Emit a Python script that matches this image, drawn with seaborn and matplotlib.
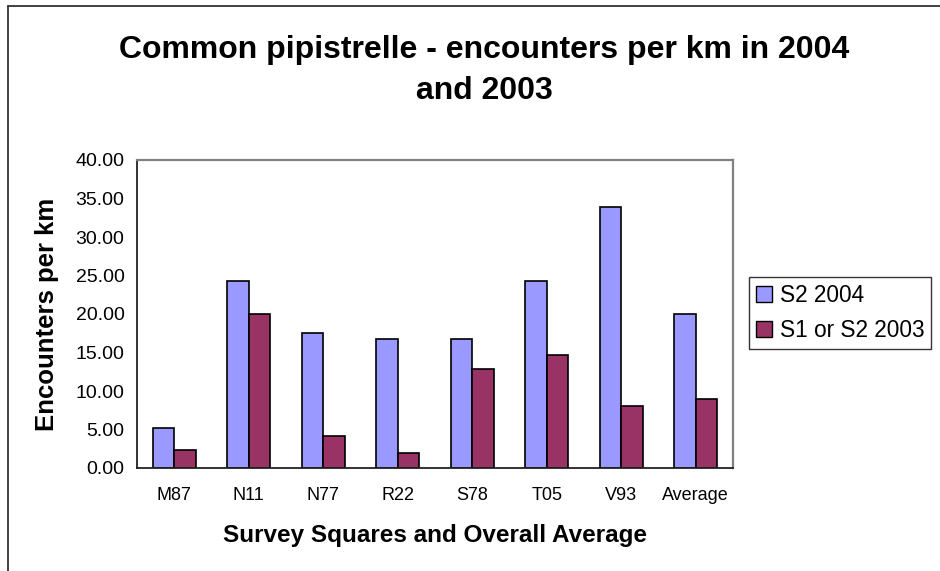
import numpy as np
import pandas as pd
import matplotlib
matplotlib.use("Agg")
import matplotlib.pyplot as plt
from matplotlib.lines import Line2D
from matplotlib.patches import Patch
import seaborn as sns

# survey squares + overall average
squares = ["M87", "N11", "N77", "R22", "S78", "T05", "V93", "Average"]
s2_2004 = [5.2, 24.3, 17.55, 16.7, 16.7, 24.3, 33.9, 20.0]
s1s2_2003 = [2.4, 20.0, 4.2, 2.0, 12.9, 14.7, 8.0, 9.0]
series = ["S2 2004", "S1 or S2 2003"]
colors = ["#9999FF", "#993366"]

df = pd.DataFrame({
    "Square": squares * 2,
    "Encounters": s2_2004 + s1s2_2003,
    "Series": [series[0]] * len(squares) + [series[1]] * len(squares),
})

sns.set_style("white")
plt.rcParams["font.family"] = ["Liberation Sans", "DejaVu Sans"]
plt.rcParams["text.color"] = "black"
plt.rcParams["axes.labelcolor"] = "black"
plt.rcParams["xtick.color"] = "black"
plt.rcParams["ytick.color"] = "black"

fig = plt.figure(figsize=(9.4, 5.71), dpi=100)
ax = fig.add_axes([137/940, 1 - 468/571, (733-137)/940, (468-160)/571])

sns.barplot(data=df, x="Square", y="Encounters", hue="Series", palette=colors,
            width=0.571, gap=0, edgecolor="black", linewidth=1.2, saturation=1,
            ax=ax, legend=False)

ax.set_ylim(0, 40)
ax.set_xlim(-0.5, len(squares) - 0.5)
ax.set_yticks(np.arange(0, 41, 5))
ax.set_yticklabels([f"{v:.2f}" for v in np.arange(0, 41, 5)], fontsize=14)
ax.set_xticks(range(len(squares)))
ax.set_xticklabels(squares, fontsize=13)
ax.tick_params(axis="x", which="major", length=0, pad=14)
ax.set_xticks(np.arange(-0.5, len(squares), 1), minor=True)
ax.tick_params(axis="x", which="minor", length=6, width=1, color="#333333", direction="out")
ax.tick_params(axis="y", length=6, width=1, color="#333333", direction="out", pad=3)

ax.set_xlabel("Survey Squares and Overall Average", fontsize=17.5, fontweight="bold", labelpad=14)
ax.set_ylabel("Encounters per km", fontsize=18.5, fontweight="bold", labelpad=12)

for side in ["left", "bottom"]:
    ax.spines[side].set_color("#222222")
    ax.spines[side].set_linewidth(1.3)
for side in ["top", "right"]:
    ax.spines[side].set_color("#808080")
    ax.spines[side].set_linewidth(1.6)
    ax.spines[side].set_visible(True)

fig.text(484/940, 1 - 50/571, "Common pipistrelle - encounters per km in 2004",
         ha="center", va="center", fontsize=23, fontweight="bold")
fig.text(484/940, 1 - 91/571, "and 2003",
         ha="center", va="center", fontsize=23, fontweight="bold")

handles = [Patch(facecolor=c, edgecolor="black", linewidth=1) for c in colors]
leg = fig.legend(handles, series, loc="upper left",
                 bbox_to_anchor=(749/940, 1 - 277/571), fontsize=16.3,
                 frameon=True, fancybox=False, edgecolor="black",
                 handlelength=0.7, handleheight=0.7, handletextpad=0.35,
                 borderpad=0.3, labelspacing=0.55, borderaxespad=0)
leg.get_frame().set_linewidth(1)

# outer chart border (left and top visible)
fig.add_artist(Line2D([8/940, 8/940], [0, 1 - 6/571], color="#333333", lw=1.3))
fig.add_artist(Line2D([8/940, 1], [1 - 6/571, 1 - 6/571], color="#333333", lw=1.3))

fig.savefig("out.png", dpi=100)
